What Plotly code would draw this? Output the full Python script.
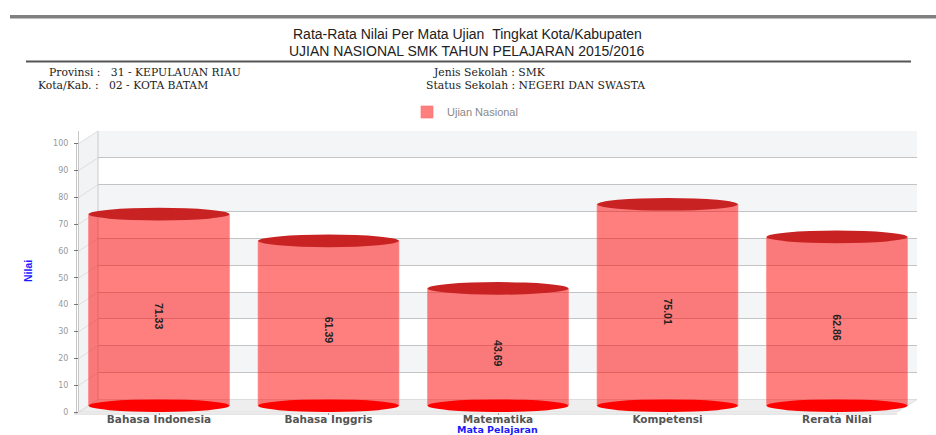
import plotly.graph_objects as go

categories = ["Bahasa Indonesia", "Bahasa Inggris", "Matematika", "Kompetensi", "Rerata Nilai"]
values = [71.33, 61.39, 43.69, 75.01, 62.86]
y_ticks = [0, 10, 20, 30, 40, 50, 60, 70, 80, 90, 100]

W, H = 936, 435
px = lambda x: x / W
py = lambda y: 1 - y / H

L_FRONT, L_BACK, R_FRONT, R_BACK = 79, 98, 897, 917
TOP, Y0_FRONT, Y0_BACK, Y0_BAR = 131, 412, 399.5, 405.7
SCALE = (Y0_BACK - TOP) / 100
SPAN = (Y0_FRONT - TOP) / SCALE
front_y = lambda v: Y0_FRONT - v * SCALE
back_y = lambda v: Y0_BACK - v * SCALE
BAR_W = 0.83
CAT_L = (L_FRONT - 159) / 169.5
CAT_R = (R_BACK - 159) / 169.5


def poly(points):
    return "M" + " L".join(f"{px(x):.5f},{py(y):.5f}" for x, y in points) + " Z"


fig = go.Figure()
# back wall (first subplot so that it sits behind the bars)
fig.add_trace(go.Scatter(x=[0, 1], y=[0, 100], xaxis="x", yaxis="y", mode="markers",
                         marker=dict(opacity=0), showlegend=False, hoverinfo="skip"))
# cylinder bodies
fig.add_trace(go.Bar(x=categories, y=values, xaxis="x2", yaxis="y2", name="Ujian Nasional", width=BAR_W,
                     marker=dict(color="rgba(255,0,0,0.5)", line=dict(color="rgba(255,120,120,0.7)", width=1)),
                     showlegend=True))
# front value axis
fig.add_trace(go.Scatter(x=categories[:2], y=[0, 100], xaxis="x2", yaxis="y3", mode="markers",
                         marker=dict(opacity=0), showlegend=False, hoverinfo="skip"))

shapes = []
# wall, floor
shapes.append(dict(type="path", xref="paper", yref="paper", layer="below", line=dict(width=0), fillcolor="#f2f3f5",
                   path=poly([(L_FRONT, front_y(100)), (L_BACK, TOP), (L_BACK, Y0_BACK), (L_FRONT, Y0_FRONT)])))
shapes.append(dict(type="path", xref="paper", yref="paper", layer="below", line=dict(color="#dcdcdc", width=1), fillcolor="#eeeeee",
                   path=poly([(L_FRONT, Y0_FRONT), (L_BACK, Y0_BACK), (R_BACK, Y0_BACK), (R_FRONT, Y0_FRONT)])))
# bands of the back wall (every other decade, starting from the top)
for k in range(10, 0, -2):
    shapes.append(dict(type="rect", xref="x domain", yref="y", layer="below", x0=0, x1=1,
                       y0=y_ticks[k - 1], y1=y_ticks[k], fillcolor="#f4f5f7", line=dict(width=0)))
# grid lines on the side wall
for t in y_ticks:
    shapes.append(dict(type="line", xref="paper", yref="paper", layer="below",
                       x0=px(L_FRONT), y0=py(front_y(t)), x1=px(L_BACK), y1=py(back_y(t)),
                       line=dict(color="#dedede", width=1)))
shapes.append(dict(type="line", xref="paper", yref="paper", layer="below", x0=px(L_BACK), x1=px(L_BACK),
                   y0=py(TOP), y1=py(Y0_BACK), line=dict(color="#d2d2d2", width=1.2)))
shapes.append(dict(type="line", xref="paper", yref="paper", layer="below", x0=px(76.5), x1=px(76.5),
                   y0=py(front_y(100)), y1=py(Y0_FRONT + 2), line=dict(color="#c8c8c8", width=1)))
shapes.append(dict(type="line", xref="paper", yref="paper", layer="below", x0=px(74), x1=px(R_FRONT),
                   y0=py(414), y1=py(414), line=dict(color="#d0d0d0", width=1.2)))
# cylinder caps
CAP = 2.35
for i, v in enumerate(values):
    shapes.append(dict(type="circle", xref="x2", yref="y2", layer="above",
                       x0=i - BAR_W / 2, x1=i + BAR_W / 2, y0=-CAP, y1=CAP,
                       fillcolor="#ff0000", line=dict(width=0)))
    shapes.append(dict(type="circle", xref="x2", yref="y2", layer="above",
                       x0=i - BAR_W / 2, x1=i + BAR_W / 2, y0=v - CAP, y1=v + CAP,
                       fillcolor="#c92222", line=dict(width=0)))
# page rules
shapes.append(dict(type="rect", xref="paper", yref="paper", x0=px(10), x1=1, y0=py(18.5), y1=py(15),
                   fillcolor="#7f7f7f", line=dict(width=0)))
shapes.append(dict(type="rect", xref="paper", yref="paper", x0=px(26), x1=px(911), y0=py(62.5), y1=py(60.5),
                   fillcolor="#555555", line=dict(width=0)))


def text(x, y, s, size=14, color="#222222", family="Liberation Sans", anchor="left", **extra):
    return dict(xref="paper", yref="paper", x=px(x), y=py(y), text=s, showarrow=False, xanchor=anchor, yanchor="middle",
                font=dict(family=family, size=size, color=color, **extra))


serif = "DejaVu Serif"
sp = "&nbsp;"
ann = [
    text(467, 34, f"Rata-Rata Nilai Per Mata Ujian{sp}{sp}Tingkat Kota/Kabupaten", anchor="center"),
    text(467, 50.5, "UJIAN NASIONAL SMK TAHUN PELAJARAN 2015/2016", anchor="center"),
    text(47, 72, f"Provinsi :{sp}{sp}{sp}31 - KEPULAUAN RIAU", family=serif, size=10.8),
    text(36, 85.5, f"Kota/Kab. :{sp}{sp}{sp}02 - KOTA BATAM", family=serif, size=10.8),
    text(431, 72, "Jenis Sekolah : SMK", family=serif, size=10.8),
    text(424, 85.5, "Status Sekolah : NEGERI DAN SWASTA", family=serif, size=10.8),
    text(497, 429, "Mata Pelajaran", size=9.5, color="#1a1aff", family="DejaVu Sans", anchor="center", weight="bold"),
]
ann.append(dict(xref="paper", yref="paper", x=px(28), y=py(271), text="Nilai", textangle=-90, showarrow=False,
                xanchor="center", yanchor="middle",
                font=dict(family="Liberation Sans", size=10.5, color="#1a1aff", weight="bold")))
for i, v in enumerate(values):
    ann.append(dict(xref="x2", yref="y2", x=i, y=v / 2, yshift=-6, text=f"{v:.2f}", textangle=90, showarrow=False,
                    font=dict(family="Liberation Sans", size=10.5, color="#222222", weight="bold")))

dom_y = [py(Y0_FRONT), py(TOP)]
fig.update_layout(
    width=W, height=H, margin=dict(l=0, r=0, t=0, b=0), autosize=False,
    paper_bgcolor="white", plot_bgcolor="rgba(0,0,0,0)", shapes=shapes, annotations=ann, bargap=0.17,
    legend=dict(x=px(407), y=py(112), xanchor="left", yanchor="middle", orientation="h", bgcolor="rgba(0,0,0,0)",
                font=dict(family="Liberation Sans", size=11, color="#888888"), itemwidth=30),
    xaxis=dict(domain=[px(L_BACK), px(R_BACK)], range=[0, 1], visible=False, anchor="y", automargin=False),
    yaxis=dict(domain=[py(Y0_BACK), py(TOP)], range=[0, 100], tickvals=y_ticks, showticklabels=False, ticks="",
               showgrid=True, gridcolor="#c4c4c4", gridwidth=1.4, zeroline=False, anchor="x", automargin=False),
    xaxis2=dict(domain=[px(L_FRONT), px(R_BACK)], type="category", range=[CAT_L, CAT_R], anchor="y2",
                showline=False, showgrid=False, ticks="outside", ticklen=2, tickcolor="#999999", automargin=False,
                ticklabelstandoff=-5,
                tickfont=dict(family="DejaVu Sans", size=10.5, color="#555555", weight="bold")),
    yaxis2=dict(domain=dom_y, range=[-(Y0_FRONT - Y0_BAR) / SCALE, SPAN - (Y0_FRONT - Y0_BAR) / SCALE],
                visible=False, anchor="x2", automargin=False),
    yaxis3=dict(domain=dom_y, range=[0, SPAN], overlaying="y2", anchor="x2", side="left", tickvals=y_ticks,
                showgrid=False, zeroline=False, showline=True, linecolor="#c8c8c8", ticks="outside", ticklen=4,
                tickcolor="#777777", tickfont=dict(family="DejaVu Sans", size=8, color="#999999"), automargin=False,
                ticklabelstandoff=4),
)

fig.write_html("out.html", config=dict(displayModeBar=False),
               post_script="document.body.style.margin='0';document.body.style.overflow='hidden';")
